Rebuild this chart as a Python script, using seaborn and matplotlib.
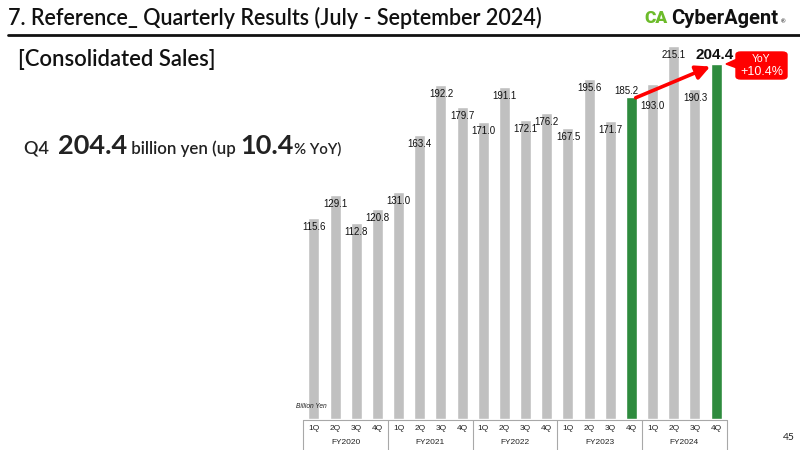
import matplotlib
matplotlib.use('Agg')
import matplotlib.pyplot as plt
import matplotlib.transforms as mtransforms
from matplotlib.patches import FancyBboxPatch, Polygon
import seaborn as sns
import pandas as pd

# ---- data ----
fiscal_years = ['FY2020', 'FY2021', 'FY2022', 'FY2023', 'FY2024']
quarters = ['1Q', '2Q', '3Q', '4Q']
sales = [115.6, 129.1, 112.8, 120.8,
         131.0, 163.4, 192.2, 179.7,
         171.0, 191.1, 172.1, 176.2,
         167.5, 195.6, 171.7, 185.2,
         193.0, 215.1, 190.3, 204.4]
highlighted = ['FY2023 4Q', 'FY2024 4Q']
yoy_label = '+10.4%'

GRAY = '#c0c0c0'
GREEN = '#2e8b3e'
RED = '#ff0000'
W, H = 800, 450

periods = [f'{fy} {q}' for fy in fiscal_years for q in quarters]
df = pd.DataFrame({'period': periods, 'sales': sales})
df['kind'] = ['hl' if p in highlighted else 'base' for p in df['period']]

sns.set_theme(style='white')
plt.rcParams['font.family'] = ['Lato', 'DejaVu Sans']

fig = plt.figure(figsize=(W / 100, H / 100), dpi=100)
fig.patch.set_facecolor('white')


def fx(px):
    return px / W


def fy(py):
    return 1 - py / H


# axes placed so that bars sit where they do on the slide
base_px, top_px = 419, 37
ax = fig.add_axes([fx(303.4), fy(base_px), fx(423.3), (base_px - top_px) / H])
sns.barplot(data=df, x='period', y='sales', hue='kind',
            palette={'base': GRAY, 'hl': GREEN}, dodge=False,
            legend=False, width=0.52, saturation=1, ax=ax)
ax.set_xlim(-0.5, len(sales) - 0.5)
ax.set_ylim(0, 220)
ax.set_axis_off()

# value labels (mostly tucked just under the bar top)
label_shift = {15: (-3.5, 4.5), 16: (0, -16), 19: (-1, 6.5)}
for i, v in enumerate(sales):
    dx, dy = label_shift.get(i, (0, -6.5))
    big = i == len(sales) - 1
    ax.annotate(f'{v:.1f}', (i, v), xytext=(dx, dy), textcoords='offset points',
                ha='center', va='center', fontsize=11 if big else 7,
                fontweight='bold' if big else 'normal',
                family='Liberation Sans', color='#111111')

# red arrow between the two highlighted quarters
ax.annotate('', xy=(18.72, 203.0), xytext=(15.2, 185.0),
            arrowprops=dict(arrowstyle='-|>,head_length=0.7,head_width=0.35',
                            color=RED, lw=2.6, shrinkA=0, shrinkB=0),
            annotation_clip=False)

# period table under the bars
blend = mtransforms.blended_transform_factory(ax.transData, fig.transFigure)
line_kw = dict(color='#a8a8a8', lw=0.8, transform=blend, clip_on=False)
ax.plot([-0.5, len(sales) - 0.5], [fy(420), fy(420)], **line_kw)
for g in range(len(fiscal_years) + 1):
    xb = g * 4 - 0.5
    ax.plot([xb, xb], [fy(420), fy(450)], **line_kw)
for i, p in enumerate(periods):
    ax.text(i, fy(429), p.split()[1], transform=blend, ha='center', va='center',
            fontsize=6, family='Liberation Sans', color='#222222')
for g, name in enumerate(fiscal_years):
    ax.text(g * 4 + 1.5, fy(443), name, transform=blend, ha='center', va='center',
            fontsize=6, family='Liberation Sans', color='#222222')
fig.text(fx(296), fy(407), 'Billion Yen', ha='left', va='center', fontsize=4.8,
         style='italic', family='Liberation Sans', color='#222222')

# YoY call-out
box = FancyBboxPatch((fx(736), fy(79)), fx(51), 27 / H,
                     boxstyle='round,pad=0,rounding_size=0.006',
                     transform=fig.transFigure, color=RED, zorder=5)
fig.patches.append(box)
fig.patches.append(Polygon([[fx(737), fy(59)], [fx(726), fy(64)], [fx(737), fy(68)]],
                           closed=True, transform=fig.transFigure, color=RED, zorder=5))
fig.text(fx(761.5), fy(59.5), 'YoY', ha='center', va='center', fontsize=7.5,
         color='white', family='Liberation Sans', zorder=6)
fig.text(fx(761.5), fy(72), yoy_label, ha='center', va='center', fontsize=9,
         color='white', family='Liberation Sans', zorder=6)

# header
fig.text(fx(8), fy(18), '7. Reference_ Quarterly Results (July - September 2024)',
         ha='left', va='center', fontsize=15.5, fontweight='semibold', color='#111111')
fig.add_artist(plt.Line2D([fx(8), 1], [fy(35), fy(35)], color='#111111', lw=2,
                          transform=fig.transFigure))
fig.text(fx(18), fy(59), '[Consolidated Sales]', ha='left', va='center',
         fontsize=15.8, fontweight='semibold', color='#111111')

# logo
fig.text(fx(644), fy(18), 'CA', ha='left', va='center', fontsize=12.5,
         fontweight='heavy', color='#6cbb2a', family='Roboto')
fig.text(fx(671), fy(18), 'CyberAgent', ha='left', va='center', fontsize=14.5,
         fontweight='bold', color='#111111', family='Roboto')
fig.text(fx(781), fy(22), '®', ha='left', va='center', fontsize=4, color='#111111')

# headline sentence, pieces laid out one after another on a shared baseline
renderer = fig.canvas.get_renderer()
pieces = [('Q4  ', 13, 'semibold'), ('204.4', 19.5, 'bold'), (' billion yen (up ', 12.2, 'semibold'),
          ('10.4', 19.5, 'bold'), ('% YoY)', 10.8, 'semibold')]
x = fx(24)
for txt, size, weight in pieces:
    t = fig.text(x, fy(154), txt, ha='left', va='baseline', fontsize=size,
                 fontweight=weight, color='#222222')
    bb = t.get_window_extent(renderer)
    x += bb.width / W

fig.text(fx(789), fy(438), '45', ha='center', va='center', fontsize=7.5, color='#222222')

fig.savefig('out.png', dpi=100)
